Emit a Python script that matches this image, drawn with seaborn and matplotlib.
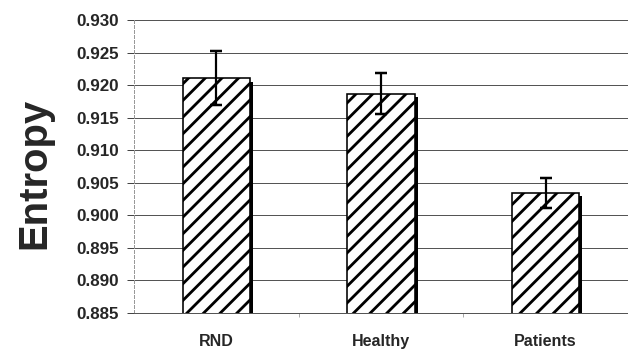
import numpy as np
import seaborn as sns
import matplotlib.pyplot as plt
from matplotlib.patches import Rectangle

groups = ['RND', 'Healthy', 'Patients']
entropy = [0.9211, 0.9187, 0.9035]
err = [0.0041, 0.0032, 0.0023]
yticks = [0.885, 0.890, 0.895, 0.900, 0.905, 0.910, 0.915, 0.920, 0.925, 0.930]

px = 72 / 100  # pixel -> point at dpi 100

sns.set_style("white")
plt.rcParams['font.family'] = ['Liberation Sans', 'DejaVu Sans']
plt.rcParams['hatch.linewidth'] = 2.8 * px
plt.rcParams['hatch.color'] = 'black'

fig = plt.figure(figsize=(6.28, 3.52), dpi=100)
ax = fig.add_axes([134/628, 1 - 313/352, 1 - 134/628, 293/352])

sns.barplot(x=groups, y=entropy, color='white', edgecolor='black',
            linewidth=1.6 * px, width=0.41, hatch='//', ax=ax, zorder=3)

# drop shadow on right side of each bar
for p in list(ax.patches):
    if hasattr(p, 'set_hatch_linewidth'):
        p.set_hatch_linewidth(2.8 * px)
    x0 = p.get_x() + p.get_width()
    top = p.get_height()
    ax.add_patch(Rectangle((x0, yticks[0]), 0.018, top - yticks[0] - 0.0006,
                           facecolor='black', edgecolor='none', zorder=2.9))

ax.errorbar(x=np.arange(len(groups)), y=entropy, yerr=err, fmt='none',
            ecolor='black', elinewidth=2.2 * px, capsize=6 * px,
            capthick=2.5 * px, zorder=4)

ax.set_ylim(yticks[0], yticks[-1])
ax.set_yticks(yticks)
ax.set_yticklabels(['%.3f' % v for v in yticks], fontsize=17 * px, fontweight='bold')
ax.set_xticks(range(len(groups)))
ax.set_xticklabels(groups, fontsize=16 * px, fontweight='bold')
ax.set_xticks([0.5, 1.5], minor=True)
ax.set_xlim(-0.5, 2.5)

ax.grid(axis='y', color='#555555', linewidth=1 * px)
ax.set_axisbelow(True)
ax.tick_params(axis='y', length=7 * px, width=1 * px, color='#444444', pad=8 * px, left=True)
ax.tick_params(axis='x', which='major', length=0, pad=21 * px)
ax.tick_params(axis='x', which='minor', length=4 * px, color='#999999', bottom=True)

for s in ['top', 'right']:
    ax.spines[s].set_visible(False)
ax.spines['left'].set_color('#999999')
ax.spines['left'].set_linewidth(1 * px)
ax.spines['left'].set_linestyle((0, (3, 2)))
ax.spines['bottom'].set_color('#555555')
ax.spines['bottom'].set_linewidth(1 * px)

ax.set_ylabel('Entropy', fontsize=40 * px, fontweight='bold')
ax.yaxis.set_label_coords(-0.164, 0.478)

fig.savefig('out.png', dpi=100)
